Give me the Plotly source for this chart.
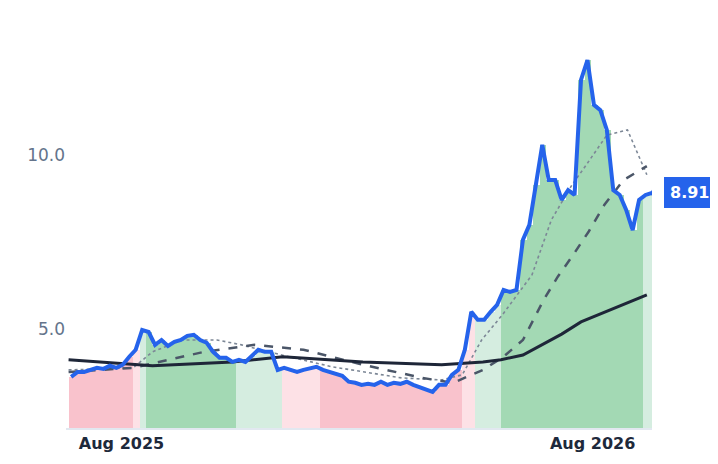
import pandas as pd
import plotly.graph_objects as go

price = [3.62,3.76,3.76,3.82,3.88,3.85,3.94,3.88,3.97,4.20,
         4.40,4.97,4.91,4.54,4.68,4.51,4.63,4.68,4.80,4.83,
         4.68,4.60,4.34,4.17,4.17,4.05,4.11,4.05,4.22,4.40,
         4.34,4.34,3.82,3.88,3.82,3.76,3.82,3.88,3.91,3.82,
         3.76,3.68,3.65,3.48,3.45,3.39,3.42,3.39,3.48,3.39,
         3.45,3.42,3.48,3.39,3.33,3.28,3.19,3.39,3.39,3.68,
         3.82,4.40,5.49,5.26,5.26,5.49,5.69,6.12,6.06,6.12,
         7.56,7.99,9.14,10.29,9.28,9.28,8.71,8.99,8.85,12.16,
         12.73,11.44,11.29,10.72,8.99,8.85,8.42,7.84,8.71,8.85,8.91]
dates = pd.date_range("2025-06-21", periods=len(price), freq="5D")
regime = (["bear"]*10 + ["bear_weak"] + ["bull_weak"] + ["bull"]*14 + ["bull_weak"]*7 +
          ["bear_weak"]*6 + ["bear"]*22 + ["bear_weak"]*2 + ["bull_weak"]*4 + ["bull"]*22 + ["bull_weak"]*2)
regime_colors = {"bear": "#f9c2cc", "bear_weak": "#fde1e6", "bull": "#a3d9b4", "bull_weak": "#d5ede0"}

long_dates = ["2025-06-21","2025-08-25","2025-10-26","2025-12-04","2026-02-04","2026-04-06","2026-05-08","2026-05-22","2026-06-08","2026-06-22","2026-07-08","2026-07-23","2026-08-08","2026-08-23","2026-09-12"]
long_ma = [4.11,3.94,4.05,4.20,4.05,3.97,4.05,4.11,4.25,4.54,4.85,5.20,5.45,5.69,5.98]
mid_dates = ["2025-06-21","2025-08-10","2025-10-04","2025-11-12","2025-12-20","2026-02-04","2026-03-22","2026-04-15","2026-05-08","2026-05-24","2026-06-08","2026-06-24","2026-07-05","2026-07-17","2026-07-29","2026-08-10","2026-08-25","2026-09-12"]
mid_ma = [3.76,3.88,4.34,4.54,4.40,3.97,3.59,3.45,3.82,4.20,4.68,5.83,6.50,7.13,7.80,8.56,9.28,9.68]
short_dates = ["2025-06-21","2025-08-10","2025-08-25","2025-09-17","2025-10-14","2025-11-02","2025-12-03","2026-01-11","2026-03-06","2026-04-06","2026-04-22","2026-05-07","2026-05-23","2026-06-15","2026-06-30","2026-07-16","2026-07-27","2026-08-12","2026-08-28","2026-09-12"]
short_ma = [3.82,3.88,4.34,4.68,4.68,4.54,4.25,3.91,3.59,3.53,3.68,4.68,5.40,6.55,8.13,9.14,9.71,10.57,10.72,9.43]

fig = go.Figure()
fig.add_trace(go.Bar(x=dates, y=price, width=5*86400000, offset=0,
                     marker=dict(color=[regime_colors[r] for r in regime], line=dict(width=0)),
                     hoverinfo="skip"))
fig.add_trace(go.Scatter(x=short_dates, y=short_ma, mode="lines", line=dict(color="#7c8796", width=1.6, dash="dot")))
fig.add_trace(go.Scatter(x=mid_dates, y=mid_ma, mode="lines", line=dict(color="#4b5668", width=2.5, dash="dash")))
fig.add_trace(go.Scatter(x=long_dates, y=long_ma, mode="lines", line=dict(color="#1e2638", width=3)))
fig.add_trace(go.Scatter(x=dates + pd.Timedelta(days=2), y=price, mode="lines", line=dict(color="#2563eb", width=4)))
fig.add_trace(go.Scatter(x=[dates[-1] + pd.Timedelta(days=5)], y=[price[-1]], mode="markers",
                         marker=dict(color="#2563eb", size=10)))

fig.add_annotation(xref="paper", x=1.02, y=price[-1], yref="y", text="<b>%.2f</b>" % price[-1],
                   showarrow=False, xanchor="left", bgcolor="#2563eb", bordercolor="#2563eb",
                   borderpad=5, font=dict(color="white", size=16, family="DejaVu Sans"))

fig.update_layout(width=718, height=464, margin=dict(l=58, r=74, t=12, b=44, autoexpand=False),
                  plot_bgcolor="white", paper_bgcolor="white", showlegend=False, bargap=0,
                  font=dict(family="DejaVu Sans"))
fig.update_xaxes(range=["2025-06-19", "2026-09-16"], showgrid=False, showline=True, linecolor="#e2e8f0",
                 linewidth=2, tickvals=["2025-08-01", "2026-08-01"], ticktext=["<b>Aug 2025</b>", "<b>Aug 2026</b>"],
                 tickfont=dict(size=16, color="#1e293b"), ticks="")
fig.update_yaxes(range=[2.15, 13.88], showgrid=False, zeroline=False, tickvals=[5, 10], ticktext=["5.0", "10.0"],
                 tickfont=dict(size=17, color="#64748b"), ticks="")
fig.write_html("out.html")
